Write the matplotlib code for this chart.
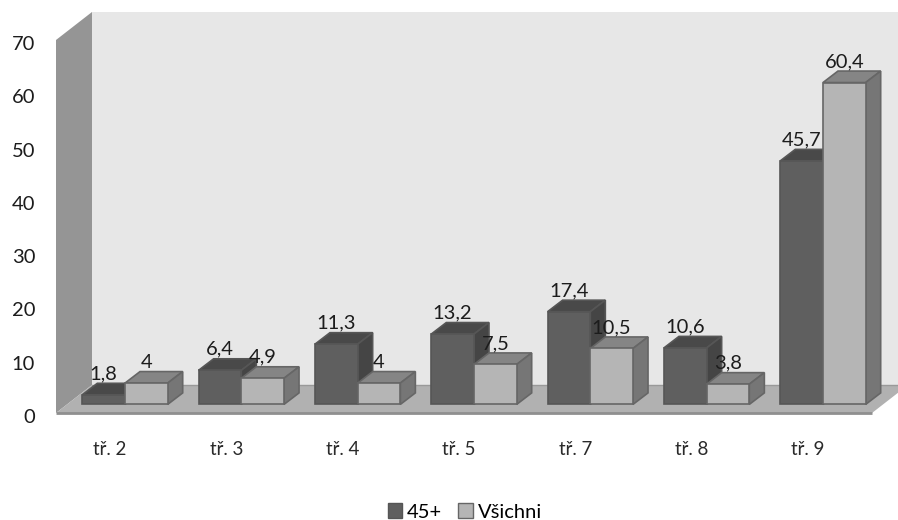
import matplotlib
matplotlib.use("Agg")
import matplotlib.pyplot as plt
from matplotlib.patches import Polygon, Patch
from matplotlib.transforms import ScaledTranslation

plt.rcParams["font.family"] = ["Lato", "DejaVu Sans"]

# Survey values per grade
categories = ["tř. 2", "tř. 3", "tř. 4", "tř. 5", "tř. 7", "tř. 8", "tř. 9"]
values_45 = [1.8, 6.4, 11.3, 13.2, 17.4, 10.6, 45.7]
values_all = [4, 4.9, 4, 7.5, 10.5, 3.8, 60.4]
labels_45 = ["1,8", "6,4", "11,3", "13,2", "17,4", "10,6", "45,7"]
labels_all = ["4", "4,9", "4", "7,5", "10,5", "3,8", "60,4"]
y_ticks = [0, 10, 20, 30, 40, 50, 60, 70]
series_names = ["45+", "Všichni"]

W, H = 898, 520
fig = plt.figure(figsize=(W / 100, H / 100), dpi=100, facecolor="white")
# Front plane of the chart box
ax = fig.add_axes([56 / W, 1 - 413 / H, (872 - 56) / W, (413 - 40) / H])
ax.patch.set_visible(False)
for s in ax.spines.values():
    s.set_visible(False)

STEP = 116.33  # pixels per category
x0 = (56 - 110) / STEP
x1 = (872 - 110) / STEP
ax.set_xlim(x0, x1)
ax.set_ylim(0, 70)
px_x = 1 / STEP
px_y = 70 / 373

# Box depth (walls) and bar depth, in data units
box_dx, box_dy = 36 * px_x, 28 * px_y
bar_dx, bar_dy = 15 * px_x, 11.5 * px_y
bar_w = 42.7 * px_x
base = 8.6 * px_y
shift = 15 * px_x


def poly(pts, face, z, edge="none", lw=0):
    ax.add_patch(Polygon(pts, closed=True, facecolor=face, edgecolor=edge,
                         linewidth=lw, zorder=z, clip_on=False))


# Back wall, side wall and floor
top = 70 + box_dy
poly([(x0 + box_dx, box_dy), (x1 + box_dx, box_dy), (x1 + box_dx, top), (x0 + box_dx, top)], "#e7e7e7", 1)
poly([(x0, 0), (x0 + box_dx, box_dy), (x0 + box_dx, top), (x0, 70)], "#959595", 2)
poly([(x0, 0), (x1, 0), (x1 + box_dx, box_dy), (x0 + box_dx, box_dy)], "#b1b1b1", 2)
ax.plot([x0, x1], [0, 0], color="#8f8f8f", lw=2, zorder=3, clip_on=False, solid_capstyle="butt")
ax.plot([x0 + box_dx, x1 + box_dx], [box_dy, box_dy], color="#999999", lw=1, zorder=3, clip_on=False)


def draw_bar(x, val, front, top_c, side, edge, z):
    h = base + val
    left, right = x - bar_w / 2, x + bar_w / 2
    poly([(left, h), (right, h), (right + bar_dx, h + bar_dy), (left + bar_dx, h + bar_dy)],
         top_c, z, edge, 1.2)
    poly([(right, base), (right + bar_dx, base + bar_dy), (right + bar_dx, h + bar_dy), (right, h)],
         side, z, edge, 1.2)
    ax.bar(x, val, width=bar_w, bottom=base, color=front, edgecolor=edge, linewidth=1.2,
           zorder=z + 0.1, clip_on=False)


text_gap = 4 * px_y
for i in range(len(categories)):
    z = 4 + i
    xd = i + shift - bar_w / 2
    xl = i + shift + bar_w / 2
    draw_bar(xd, values_45[i], "#5f5f5f", "#494949", "#454545", "#565656", z)
    draw_bar(xl, values_all[i], "#b5b5b5", "#858585", "#767676", "#666666", z + 0.3)

for i in range(len(categories)):
    xd = i + shift - bar_w / 2
    xl = i + shift + bar_w / 2
    ax.text(xd, base + values_45[i] + bar_dy + text_gap, labels_45[i], ha="center", va="baseline",
            fontsize=14.5, color="#1c1c1c", zorder=20)
    ax.text(xl, base + values_all[i] + bar_dy + text_gap, labels_all[i], ha="center", va="baseline",
            fontsize=14.5, color="#1c1c1c", zorder=20)

ax.set_yticks(y_ticks)
ax.set_xticks(range(len(categories)))
ax.set_xticklabels(categories, fontsize=13.5, color="#2a2a2a")
ax.tick_params(axis="y", length=0, pad=15, labelsize=14.5, labelcolor="#1c1c1c")
ax.tick_params(axis="x", length=0, pad=20)

# Value labels sit slightly below their nominal tick height
nudge = ScaledTranslation(0, -3 / 100, fig.dpi_scale_trans)
for lbl in ax.get_yticklabels():
    lbl.set_transform(lbl.get_transform() + nudge)

legend_handles = [
    Patch(facecolor="#5f5f5f", edgecolor="#555555", label=series_names[0]),
    Patch(facecolor="#b5b5b5", edgecolor="#666666", label=series_names[1]),
]
fig.legend(handles=legend_handles, loc="center", bbox_to_anchor=(465 / W, 1 - 512 / H), ncol=2,
           frameon=False, fontsize=14.5, handlelength=0.7, handleheight=0.7,
           handletextpad=0.25, columnspacing=0.8, borderpad=0, borderaxespad=0)

fig.savefig("out.png", dpi=100, facecolor="white")
